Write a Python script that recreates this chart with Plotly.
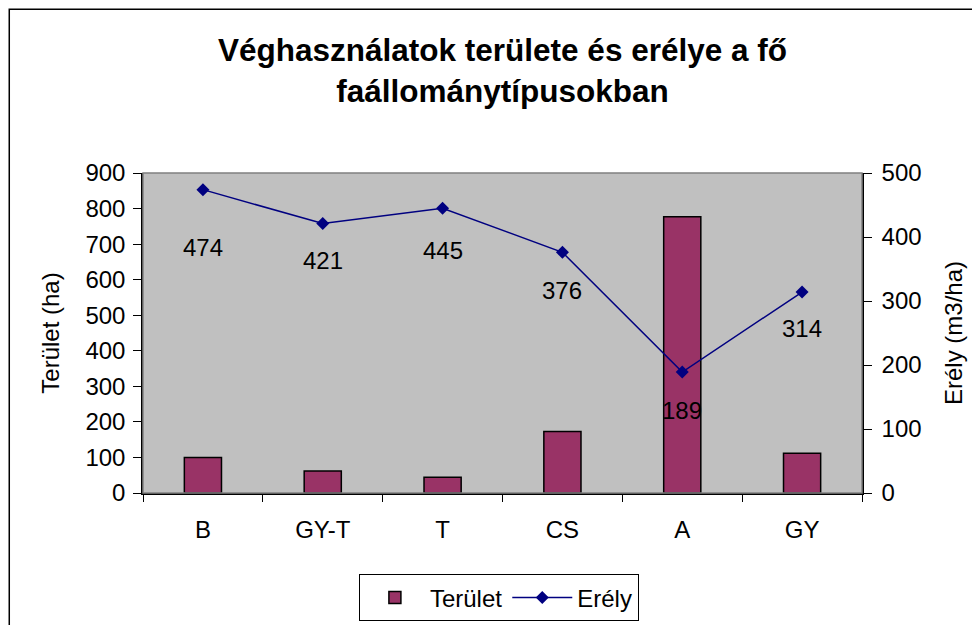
import plotly.graph_objects as go

categories = ["B", "GY-T", "T", "CS", "A", "GY"]
terulet = [100, 62, 44, 173, 777, 112]
erely = [474, 421, 445, 376, 189, 314]
label_offsets = [-58, -37, -42, -38, -38, -36]

FONT = "Liberation Sans, Arial, sans-serif"
FS = 24

fig = go.Figure()
fig.add_trace(go.Bar(
    x=categories, y=terulet, name="Terület",
    marker=dict(color="#993366", line=dict(color="black", width=1.5)),
    width=0.31, yaxis="y",
))
fig.add_trace(go.Scatter(
    x=categories, y=erely, name="Erély", yaxis="y2",
    mode="lines+markers",
    line=dict(color="#000080", width=1.5),
    marker=dict(symbol="diamond", size=10, color="#000080"),
))

for c, v, off in zip(categories, erely, label_offsets):
    fig.add_annotation(x=c, y=v, yref="y2", text=str(v), showarrow=False,
                       yshift=off, font=dict(size=FS, color="black", family=FONT))

# plot-area border and outer chart border
fig.add_shape(type="rect", xref="paper", yref="paper", x0=0, x1=1, y0=0, y1=1,
              line=dict(color="#808080", width=1.5), layer="above")
fig.add_shape(type="rect", xref="paper", yref="paper", x0=-0.186, x1=1.3, y0=-0.6, y1=1.512,
              line=dict(color="black", width=1.5))

fig.update_layout(
    width=980, height=625,
    margin=dict(l=135, r=126, t=165, b=140),
    paper_bgcolor="white", plot_bgcolor="#C0C0C0",
    font=dict(family=FONT, size=FS, color="black"),
    title=dict(text="<b>Véghasználatok területe és erélye a fő<br>faállománytípusokban</b>",
               x=0.5, xref="paper", xanchor="center", y=0.915, yanchor="middle",
               font=dict(size=31.5, family=FONT)),
    showlegend=True,
    legend=dict(orientation="h", x=0.495, xanchor="center", y=-0.328, yanchor="middle",
                bordercolor="black", borderwidth=1, bgcolor="white",
                font=dict(size=FS, family=FONT), itemwidth=60),
    xaxis=dict(type="category", showgrid=False, ticks="outside", tickson="boundaries",
               ticklen=7, tickcolor="black", showline=True, linecolor="black", linewidth=1.5,
               tickfont=dict(size=FS), zeroline=False, automargin=False,
               ticklabelstandoff=14),
    yaxis=dict(range=[0, 900], dtick=100, showgrid=False, ticks="outside", ticklen=8,
               tickcolor="black", showline=True, linecolor="black", linewidth=1.5,
               tickfont=dict(size=FS), zeroline=False, automargin=False,
               ticklabelstandoff=3,
               title=dict(text="Terület (ha)", font=dict(size=FS), standoff=19)),
    yaxis2=dict(range=[0, 500], dtick=100, overlaying="y", side="right", showgrid=False,
                ticks="outside", ticklen=8, tickcolor="black", showline=True,
                linecolor="black", linewidth=1.5, tickfont=dict(size=FS), zeroline=False,
                automargin=False, ticklabelstandoff=5,
                title=dict(text="Erély (m3/ha)", font=dict(size=FS), standoff=25)),
    bargap=0.69,
)

fig.write_html("out.html")
